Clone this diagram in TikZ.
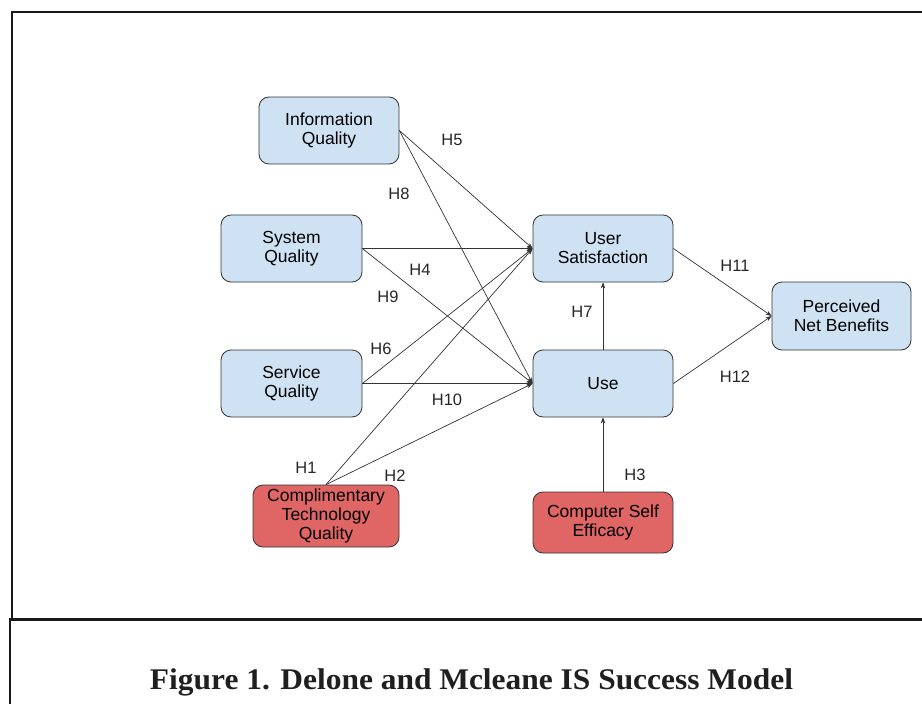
\documentclass[tikz,border=0pt]{standalone}
\usepackage{fontspec}
\setmainfont{Liberation Sans}
\newfontfamily\capfont{Liberation Serif}
\usetikzlibrary{arrows.meta}
\definecolor{boxblue}{HTML}{CFE2F3}
\definecolor{boxred}{HTML}{E06666}
\definecolor{linegray}{HTML}{333333}
\begin{document}
\begin{tikzpicture}[x=1pt,y=-1pt,
  box/.style={draw=linegray, line width=0.8pt, rounded corners=10pt, align=center,
    font=\fontsize{17.5}{19}\selectfont, inner sep=0pt},
  bluebox/.style={box, fill=boxblue},
  redbox/.style={box, fill=boxred},
  conn/.style={draw=linegray, line width=0.7pt, -{Stealth[length=6pt,width=4.5pt]}},
  lab/.style={font=\fontsize{16.5}{19}\selectfont, text=black!85, inner sep=0pt},
  frame/.style={draw=black!90}]
\useasboundingbox (0,0) rectangle (922,704);
% frame
\draw[frame, line width=2pt] (11.5,619) -- (11.5,12) -- (922,12);
\draw[frame, line width=3pt] (9,619.7) -- (922,619.7);
\draw[frame, line width=2pt] (10.2,619) -- (10.2,704);
% nodes
\node[bluebox, minimum width=140pt, minimum height=67pt] (iq) at (329,130.5) {Information\\Quality};
\node[bluebox, minimum width=141pt, minimum height=67pt] (sq) at (291.5,248.5) {System\\Quality};
\node[bluebox, minimum width=141pt, minimum height=67pt] (svq) at (291.5,383.5) {Service\\Quality};
\node[bluebox, minimum width=140pt, minimum height=67pt] (us) at (603,248.5) {User\\Satisfaction};
\node[bluebox, minimum width=140pt, minimum height=67pt] (use) at (603,383.5) {Use};
\node[bluebox, minimum width=139pt, minimum height=68pt] (pnb) at (841.5,316) {Perceived\\Net Benefits};
\node[redbox, minimum width=146pt, minimum height=62pt] (ctq) at (326,516) {Complimentary\\Technology\\Quality};
\node[redbox, minimum width=140pt, minimum height=61pt] (cse) at (603,522.5) {Computer Self\\Efficacy};
% connectors
\draw[conn] (iq.east) -- (us.west);
\draw[conn] (iq.east) -- (use.west);
\draw[conn] (sq.east) -- (us.west);
\draw[conn] (sq.east) -- (use.west);
\draw[conn] (svq.east) -- (us.west);
\draw[conn] (svq.east) -- (use.west);
\draw[conn] (ctq.north) -- (us.west);
\draw[conn] (ctq.north) -- (use.west);
\draw[conn] (use.north) -- (us.south);
\draw[conn] (cse.north) -- (use.south);
\draw[conn] (us.east) -- (pnb.west);
\draw[conn] (use.east) -- (pnb.west);
% labels
\node[lab] (h5) at (452,140) {H5};
\node[lab] (h8) at (399,194) {H8};
\node[lab] (h4) at (420,270) {H4};
\node[lab] (h9) at (388,297) {H9};
\node[lab] (h6) at (381,349) {H6};
\node[lab] (h10) at (447,400) {H10};
\node[lab] (h1) at (306,468) {H1};
\node[lab] (h2) at (395,476) {H2};
\node[lab] (h7) at (582,312) {H7};
\node[lab] (h3) at (635,475) {H3};
\node[lab] (h11) at (735,266) {H11};
\node[lab] (h12) at (735,377) {H12};
% caption
\node[inner sep=0pt, text=black!88] (cap) at (471.5,682) {\resizebox{643pt}{\height}{\capfont\bfseries\fontsize{30}{32}\selectfont Figure 1. Delone and Mcleane IS Success Model}};
\end{tikzpicture}
\end{document}
